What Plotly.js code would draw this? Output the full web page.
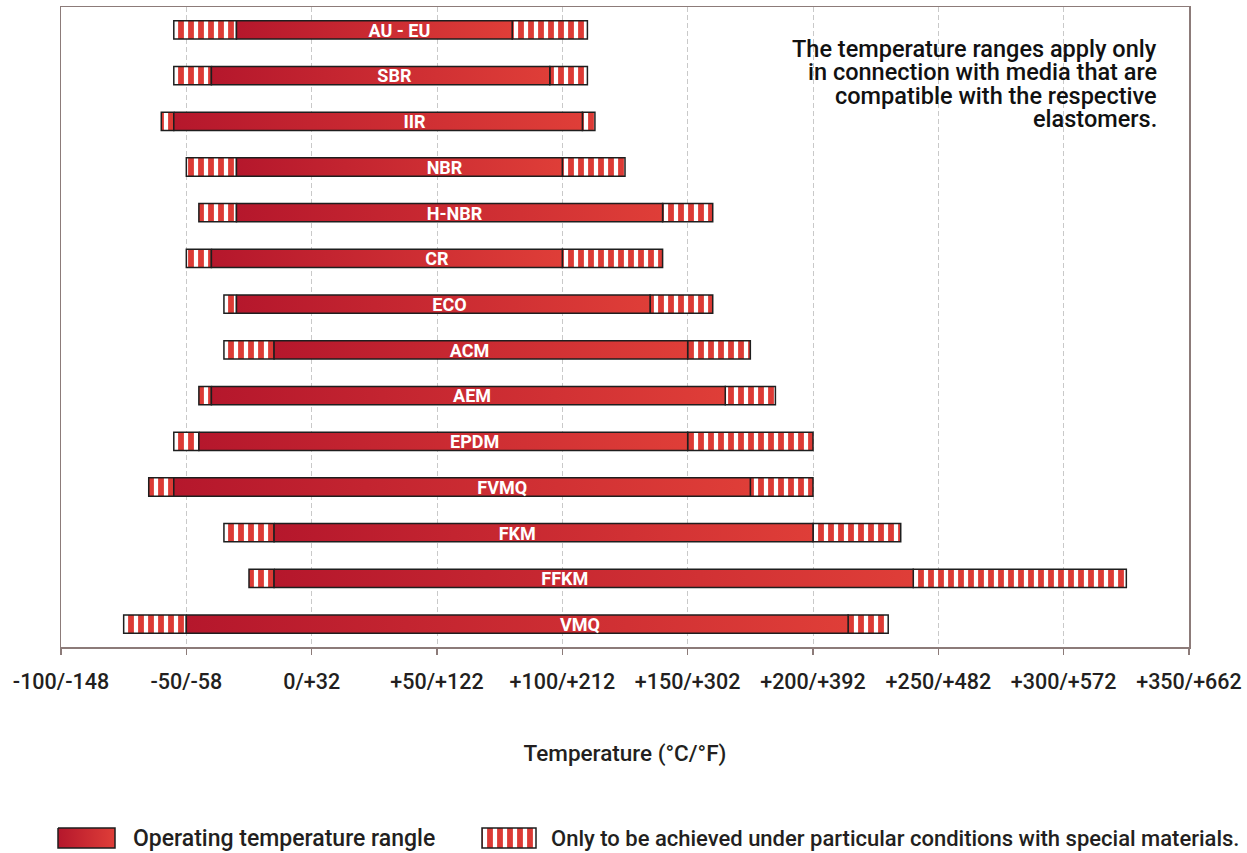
<!DOCTYPE html>
<html>
<head>
<meta charset="utf-8">
<script src="https://cdn.plot.ly/plotly-3.0.1.min.js"></script>
<style>html,body{margin:0;padding:0;background:#fff;}#chart{width:1247px;height:853px;}</style>
</head>
<body>
<div id="chart"></div>
<script>
// ---- data (°C) ----
const materials    = ['AU - EU','SBR','IIR','NBR','H-NBR','CR','ECO','ACM','AEM','EPDM','FVMQ','FKM','FFKM','VMQ'];
const specialMin   = [-55, -55, -60, -50, -45, -50, -35, -35, -45, -55, -65, -35, -25, -75];
const operatingMin = [-30, -40, -55, -30, -30, -40, -30, -15, -40, -45, -55, -15, -15, -50];
const operatingMax = [ 80,  95, 108, 100, 140, 100, 135, 150, 165, 150, 175, 200, 240, 214];
const specialMax   = [110, 110, 113, 125, 160, 140, 160, 175, 185, 200, 200, 235, 325, 230];
const labelX       = [ 35,  33,  41,  53,  57,  50,  55,  63,  64,  65,  76,  82, 101, 107];
const tickVals = [-100, -50, 0, 50, 100, 150, 200, 250, 300, 350];
const tickText = ['-100/-148','-50/-58','0/+32','+50/+122','+100/+212','+150/+302','+200/+392','+250/+482','+300/+572','+350/+662'];
const noteLines = ['The temperature ranges apply only','in connection with media that are','compatible with the respective','elastomers.'];
const legendLabels = ['Operating temperature rangle','Only to be achieved under particular conditions with special materials.'];

// ---- styles ----
const FONT = 'Roboto, "DejaVu Sans", sans-serif';
const TEXT = '#231f20';
const RED = '#dc3a35';
const OUTLINE = '#1e1e1e';
const GRAD = [[0,'#b5172c'],[1,'#df3e38']];
const AXIS = '#8c7b79';
const HALF = 0.2;
const hatch = {shape:'|', fgcolor:'#ffffff', fgopacity:1, bgcolor:RED, size:10, solidity:0.42};

const rows = materials.map((_, i) => i);
const traces = [];

// hatched (special) segments
traces.push({type:'bar', orientation:'h', y:rows, base:specialMin,
  x:specialMin.map((v,i)=>operatingMin[i]-v), width:HALF*2,
  marker:{color:RED, pattern:hatch, line:{color:OUTLINE, width:1.5}},
  hoverinfo:'skip', showlegend:false});
traces.push({type:'bar', orientation:'h', y:rows, base:operatingMax,
  x:operatingMax.map((v,i)=>specialMax[i]-v), width:HALF*2,
  marker:{color:RED, pattern:hatch, line:{color:OUTLINE, width:1.5}},
  hoverinfo:'skip', showlegend:false});

// solid gradient (operating) segments
rows.forEach(i => {
  const a = operatingMin[i], b = operatingMax[i];
  traces.push({type:'scatter', mode:'lines',
    x:[a, b, b, a, a], y:[i-HALF, i-HALF, i+HALF, i+HALF, i-HALF],
    fill:'toself', fillcolor:'#c92a32',
    fillgradient:{type:'horizontal', colorscale:GRAD},
    line:{color:OUTLINE, width:1.5}, hoverinfo:'skip', showlegend:false});
});

// labels
traces.push({type:'scatter', mode:'text', x:labelX, y:rows.map(r => r + 0.05), text:materials,
  textposition:'middle center',
  textfont:{family:FONT, size:18, color:'#ffffff', weight:'bold'},
  hoverinfo:'skip', showlegend:false});

// custom legend swatches (pixel-like axes x2/y2)
traces.push({type:'scatter', mode:'lines', xaxis:'x2', yaxis:'y2',
  x:[58,115,115,58,58], y:[828,828,848,848,828],
  fill:'toself', fillcolor:'#c92a32',
  fillgradient:{type:'horizontal', colorscale:GRAD},
  line:{color:OUTLINE, width:1.5}, hoverinfo:'skip', showlegend:false});
traces.push({type:'bar', orientation:'h', xaxis:'x2', yaxis:'y2',
  y:[838], base:[482], x:[54], width:20,
  marker:{color:RED, pattern:hatch, line:{color:OUTLINE, width:1.5}},
  hoverinfo:'skip', showlegend:false});

const TOP = 7, H = 853 - TOP;
const py = px => 1 - (px - TOP) / H;

const annotations = [];
const noteY = [49, 72, 96, 119];
noteLines.forEach((t, k) => annotations.push({
  text:t, xref:'paper', yref:'paper', x:1159/1247, y:py(noteY[k]),
  xanchor:'right', yanchor:'middle', showarrow:false,
  font:{family:FONT, size:23.5, color:'#111111', weight:500}}));
annotations.push({text:legendLabels[0], xref:'x2', yref:'y2', x:131, y:838,
  xanchor:'left', yanchor:'middle', showarrow:false, font:{family:FONT, size:23, color:TEXT, weight:500}});
annotations.push({text:legendLabels[1], xref:'x2', yref:'y2', x:549, y:838,
  xanchor:'left', yanchor:'middle', showarrow:false, font:{family:FONT, size:22, color:TEXT, weight:500}});

const layout = {
  width:1247, height:853,
  margin:{l:0, r:0, t:TOP, b:0},
  paper_bgcolor:'#ffffff', plot_bgcolor:'#ffffff',
  barmode:'overlay',
  showlegend:false,
  font:{family:FONT, color:TEXT},
  xaxis:{domain:[61/1247, 1189/1247], range:[-100, 350], anchor:'y',
    tickmode:'array', tickvals:tickVals, ticktext:tickText,
    ticks:'outside', ticklen:6, tickwidth:1.5, tickcolor:AXIS,
    ticklabelstandoff:9,
    tickfont:{family:FONT, size:21.5, color:TEXT, weight:500},
    showgrid:true, gridcolor:'#c9c9c9', gridwidth:1, griddash:'5px,3px',
    showline:true, linecolor:AXIS, linewidth:1.5, mirror:true, zeroline:false,
    title:{text:'Temperature (°C/°F)', standoff:52, font:{family:FONT, size:22.5, color:TEXT, weight:500}}},
  yaxis:{domain:[py(647), 1], range:[13.5, -0.5], anchor:'x',
    showticklabels:false, ticks:'', showgrid:false, zeroline:false,
    showline:true, linecolor:AXIS, linewidth:1.5, mirror:true},
  xaxis2:{domain:[0,1], range:[0,1247], anchor:'y2', visible:false, fixedrange:true},
  yaxis2:{domain:[0, 45/H], range:[853, 808], anchor:'x2', visible:false, fixedrange:true},
  annotations:annotations
};

Plotly.newPlot('chart', traces, layout, {displayModeBar:false, staticPlot:true});
</script>
</body>
</html>
